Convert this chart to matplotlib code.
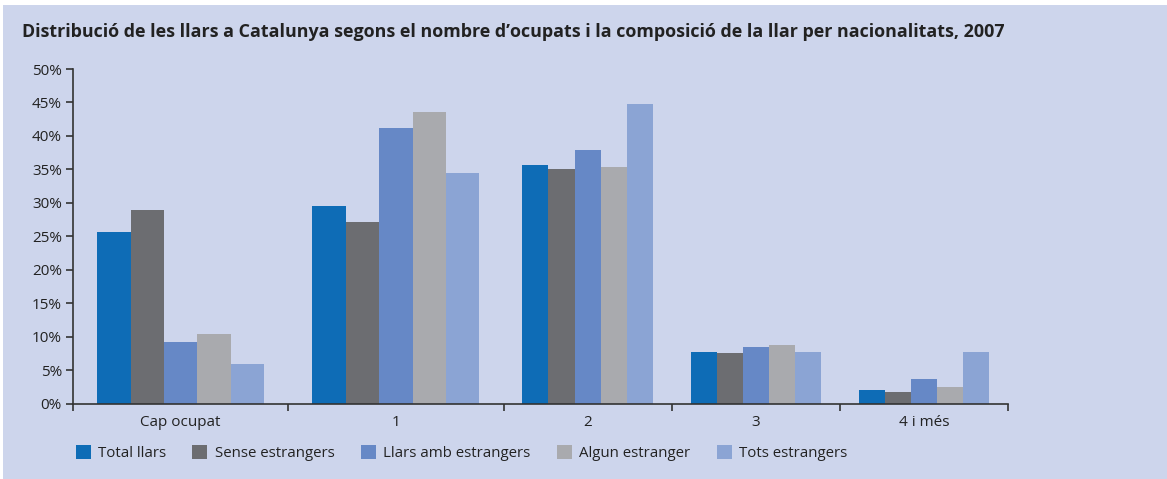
import matplotlib
matplotlib.use("Agg")
import matplotlib.pyplot as plt
import matplotlib.patches as mpatches
import numpy as np

# ── Data ──────────────────────────────────────────────────────────────────────

categories = ["Cap ocupat", "1", "2", "3", "4 i més"]
series_names = ["Total llars", "Sense estrangers", "Llars amb estrangers",
                "Algun estranger", "Tots estrangers"]
total_llars = [25.6, 29.5, 35.6, 7.7, 2.0]
sense_estrangers = [28.9, 27.1, 35.0, 7.5, 1.7]
llars_amb_estrangers = [9.2, 41.2, 37.9, 8.4, 3.7]
algun_estranger = [10.4, 43.6, 35.3, 8.7, 2.5]
tots_estrangers = [5.9, 34.5, 44.8, 7.7, 7.7]
yticks = [0, 5, 10, 15, 20, 25, 30, 35, 40, 45, 50]

TITLE = ("Distribució de les llars a Catalunya segons el nombre d\u2019ocupats "
         "i la composició de la llar per nacionalitats, 2007")

# ── Style ─────────────────────────────────────────────────────────────────────

COLORS = ["#0e6cb6", "#6c6d71", "#6688c6", "#a9aaae", "#8ba4d4"]
BG = "#cdd5ec"
AXIS_COLOR = "#333333"
# the first two groups are drawn wider than the last three in the original
GROUP_WIDTHS = [1.28, 1.28, 1.0, 1.0, 1.0]
BAR_FILL = 0.775

plt.rcParams["font.family"] = ["Open Sans", "DejaVu Sans"]

fig = plt.figure(figsize=(11.67, 4.79), dpi=100, facecolor="white")
fig.patches.append(mpatches.Rectangle((3 / 1167, 0), 1, 474 / 479,
                                      transform=fig.transFigure,
                                      facecolor=BG, edgecolor="none", zorder=-10))

ax = fig.add_axes([73 / 1167, (479 - 403.5) / 479, 935 / 1167, 334.5 / 479])
ax.set_facecolor("none")

edges = np.concatenate([[0], np.cumsum(GROUP_WIDTHS)])
centers = (edges[:-1] + edges[1:]) / 2
widths = np.array(GROUP_WIDTHS)

series = [total_llars, sense_estrangers, llars_amb_estrangers,
          algun_estranger, tots_estrangers]
n = len(series)
for k, (vals, name, color) in enumerate(zip(series, series_names, COLORS)):
    bw = widths * BAR_FILL / n
    x = centers - widths * BAR_FILL / 2 + bw * (k + 0.5)
    ax.bar(x, vals, bw, color=color, label=name, linewidth=0)

ax.set_xlim(edges[0], edges[-1])
ax.set_ylim(0, 50)
ax.set_yticks(yticks)
ax.set_yticklabels([f"{t}%" for t in yticks], fontsize=11, color="#222222")

ax.set_xticks(centers)
ax.set_xticklabels(categories, fontsize=11, color="#222222")
ax.tick_params(axis="x", which="major", length=0, pad=8)
ax.set_xticks(edges, minor=True)
ax.tick_params(axis="x", which="minor", length=5, width=1.2, color=AXIS_COLOR)
ax.tick_params(axis="y", length=5, width=1.2, color=AXIS_COLOR, pad=3)

for s in ("top", "right"):
    ax.spines[s].set_visible(False)
for s in ("left", "bottom"):
    ax.spines[s].set_color(AXIS_COLOR)
    ax.spines[s].set_linewidth(1.2)

fig.text(22 / 1167, 1 - 32 / 479, TITLE, fontsize=12.9, fontweight="bold",
         color="#222222", va="center", ha="left")

fig.legend(loc="center left", bbox_to_anchor=(62 / 1167, 1 - 453 / 479),
           ncol=5, frameon=False, fontsize=10.8, handlelength=1.0,
           handleheight=1.0, handletextpad=0.5, columnspacing=1.75,
           labelcolor="#222222")

fig.savefig("out.png", dpi=100, facecolor="white")
